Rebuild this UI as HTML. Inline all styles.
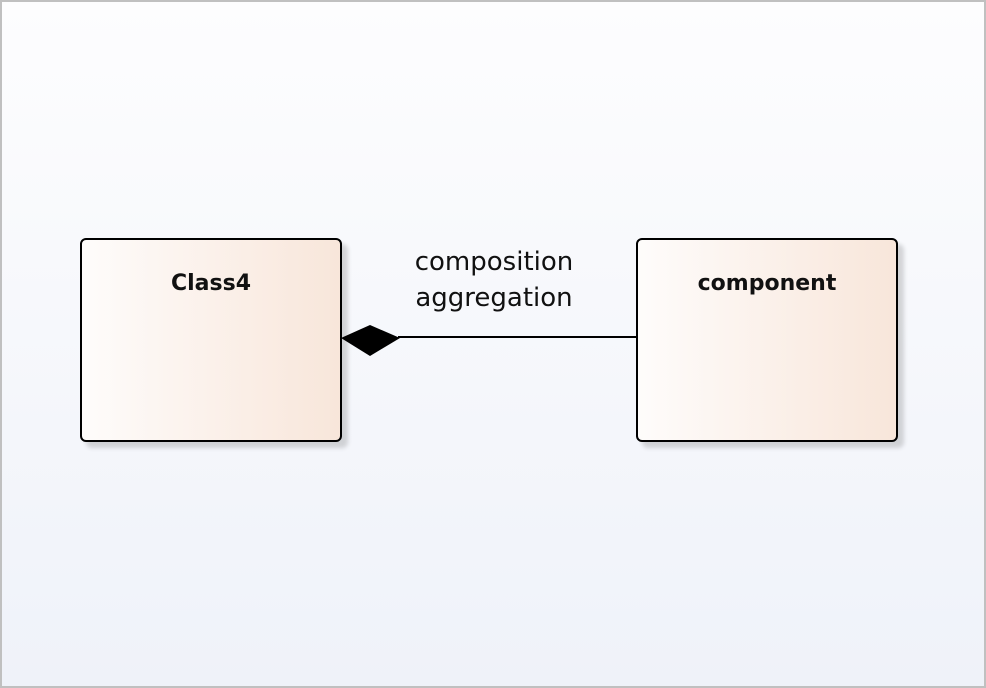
<!DOCTYPE html>
<html><head><style>
html,body{margin:0;padding:0}
body{width:986px;height:688px;position:relative;overflow:hidden;font-family:"Segoe UI","DejaVu Sans","Liberation Sans",sans-serif;}
.frame{position:absolute;left:0;top:0;width:982px;height:684px;border:2px solid #c0c0c0;background:linear-gradient(#fdfdfe,#eff2f9);}
.box{position:absolute;top:238px;width:258px;height:200px;border:2px solid #000;border-radius:6px;background:linear-gradient(to right,#fefcfb,#f8e6da);box-shadow:6px 6px 4px rgba(0,0,0,0.15);}
.box span{position:absolute;top:31px;left:0;right:0;text-align:center;font-weight:bold;font-size:22px;color:#111}
.lbl{position:absolute;left:394px;width:200px;text-align:center;font-size:26px;color:#111;line-height:30px}
</style></head><body>
<div class="frame"></div>
<div class="box" style="left:80px"><span>Class4</span></div>
<div class="box" style="left:636px"><span>component</span></div>
<div class="lbl" style="top:247px">composition</div>
<div class="lbl" style="top:283px">aggregation</div>
<svg style="position:absolute;left:0;top:0" width="986" height="688">
<line x1="398" y1="337" x2="637" y2="337" stroke="#000" stroke-width="2"/>
<polygon points="341,338 370,325 400,338 370,356" fill="#000"/>
</svg>
</body></html>
